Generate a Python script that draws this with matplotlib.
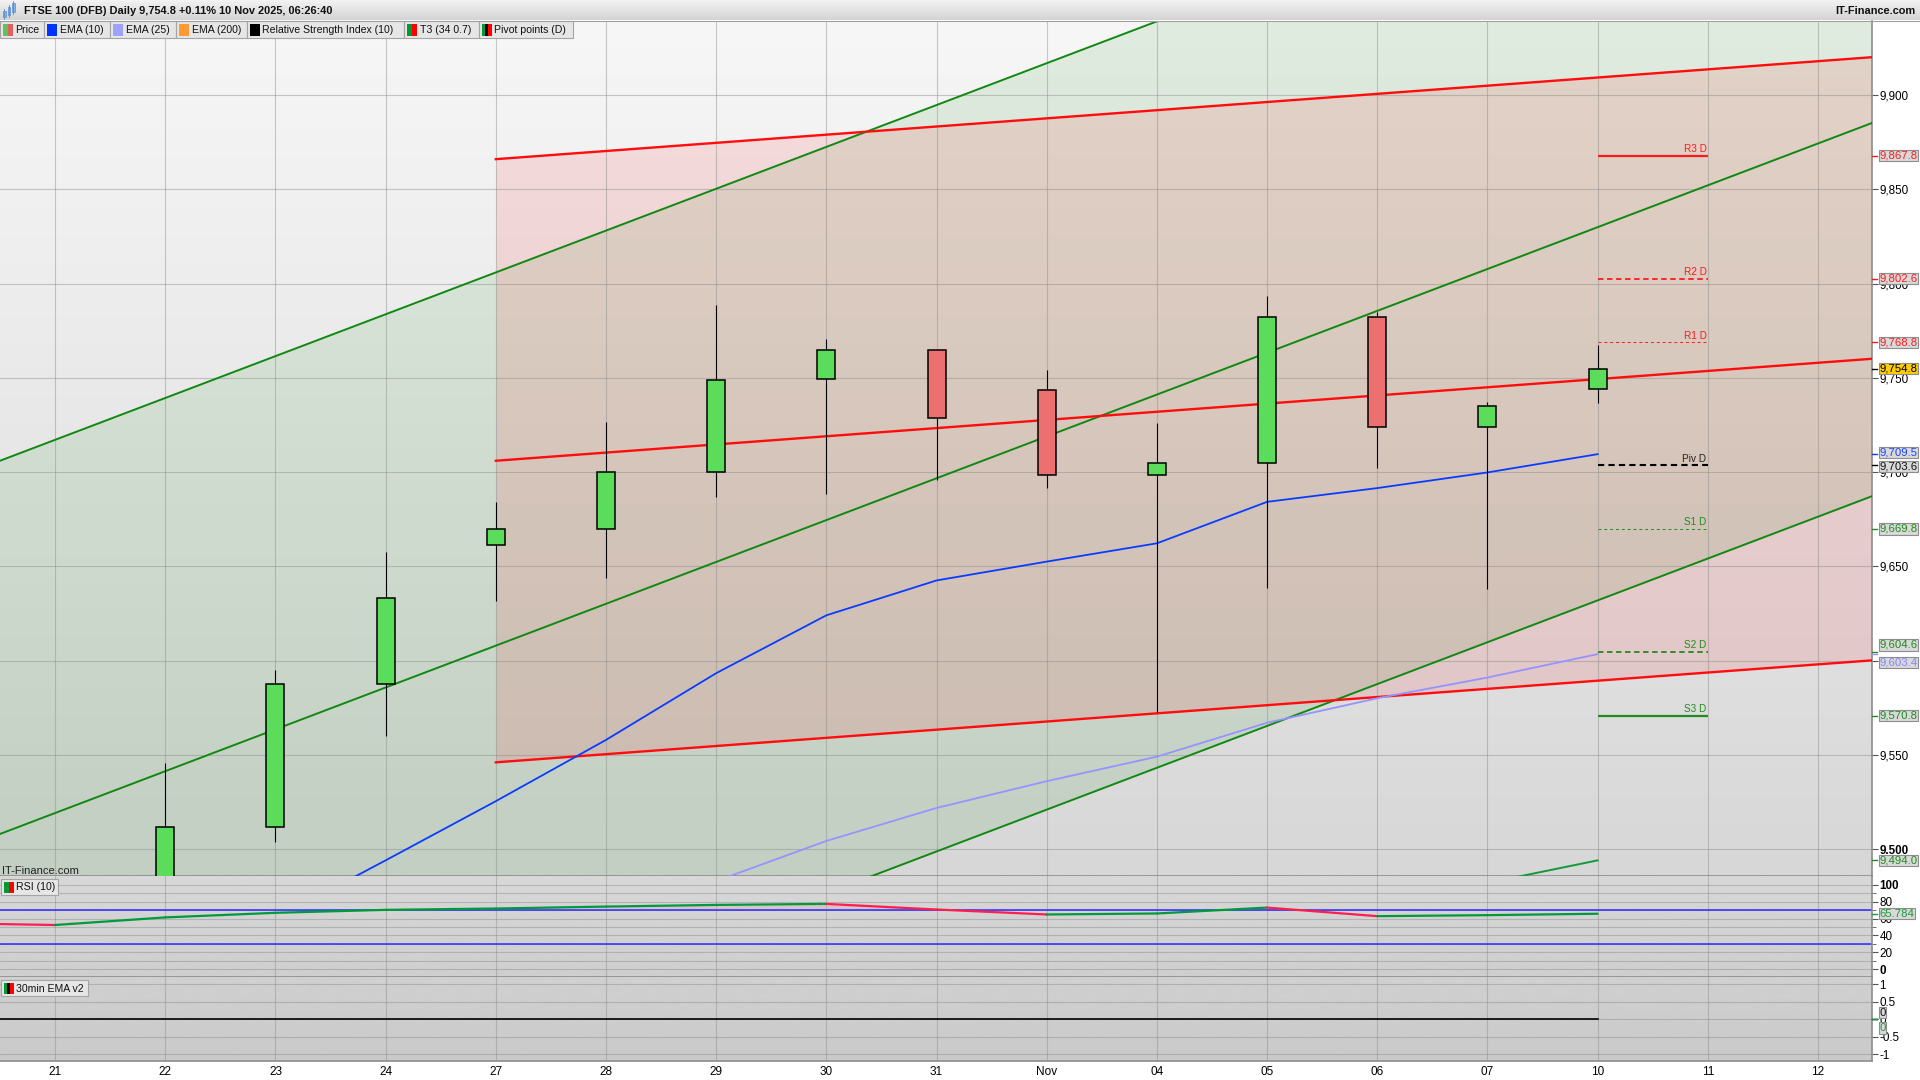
import matplotlib
matplotlib.use('Agg')
import matplotlib.pyplot as plt
import matplotlib.transforms as mtransforms
import numpy as np
from matplotlib.patches import Rectangle

plt.rcParams['font.family'] = ['Liberation Sans', 'DejaVu Sans']

# =============================================================================
# FTSE 100 (DFB) daily, 21 Oct - 10 Nov 2025
# =============================================================================
DATES = ['21', '22', '23', '24', '27', '28', '29', '30', '31', 'Nov',
         '04', '05', '06', '07', '10', '11', '12']

OPEN = [9468.0, 9462.0, 9511.6, 9587.8, 9661.2, 9669.7, 9700.0, 9749.6,
        9765.0, 9743.6, 9698.4, 9704.8, 9782.4, 9723.9, 9744.1]
HIGH = [9482.0, 9545.7, 9594.9, 9657.7, 9684.3, 9726.8, 9788.6, 9770.5,
        9765.0, 9753.9, 9726.2, 9793.3, 9784.8, 9737.4, 9767.2]
LOW = [9440.0, 9455.0, 9503.5, 9559.8, 9631.7, 9643.9, 9686.6, 9688.2,
       9695.7, 9691.3, 9572.5, 9638.7, 9702.0, 9638.1, 9736.5]
CLOSE = [9450.0, 9511.6, 9587.8, 9633.1, 9669.7, 9700.0, 9749.0, 9765.0,
         9728.7, 9698.4, 9704.8, 9782.4, 9723.9, 9735.1, 9754.8]

EMA10 = [9419.0, 9436.0, 9463.0, 9494.0, 9525.4, 9557.9, 9593.3, 9624.0,
         9642.5, 9652.5, 9662.2, 9684.2, 9691.5, 9699.8, 9709.5]
EMA25 = [9385.0, 9394.0, 9408.0, 9424.0, 9442.0, 9461.0, 9483.0, 9504.3,
         9521.8, 9536.0, 9549.0, 9567.0, 9580.0, 9591.0, 9603.4]
T3 = [9330.0, 9338.0, 9347.0, 9357.0, 9368.0, 9380.0, 9393.0, 9406.0,
      9419.0, 9431.0, 9443.0, 9456.0, 9469.0, 9482.0, 9494.0]

# regression channels: x ends, centre line ends, half width
GREEN_CH_X = [-0.5, 16.49]
GREEN_CH_MID = [9508.0, 9885.2]
GREEN_CH_HALF = 198.0
RED_CH_X = [4.0, 16.49]
RED_CH_MID = [9706.0, 9760.1]
RED_CH_HALF = 160.0

PIVOT_NAMES = ['R3 D', 'R2 D', 'R1 D', 'Piv D', 'S1 D', 'S2 D', 'S3 D']
PIVOT_VALUES = [9867.8, 9802.6, 9768.8, 9703.6, 9669.8, 9604.6, 9570.8]

RSI_X = [-1, 0, 1, 2, 3, 4, 5, 6, 7, 8, 9, 10, 11, 12, 13, 14]
RSI = [54.6, 52.4, 61.4, 66.9, 70.4, 72.0, 74.3, 76.3, 77.5, 70.8, 64.9,
       66.1, 73.1, 62.9, 64.1, 65.784]

EMA_V2_X = [-1, 0, 1, 2, 3, 4, 5, 6, 7, 8, 9, 10, 11, 12, 13, 14]
EMA_V2 = [0.0, 0.0, 0.0, 0.0, 0.0, 0.0, 0.0, 0.0, 0.0, 0.0, 0.0, 0.0, 0.0,
          0.0, 0.0, 0.0]

LEGEND_ITEMS = ['Price', 'EMA (10)', 'EMA (25)', 'EMA (200)',
                'Relative Strength Index (10)', 'T3 (34 0.7)',
                'Pivot points (D)']

# =============================================================================
# layout / styles
# =============================================================================
W, H = 1920, 1080
PLOT_RIGHT = 1872
X_LIM = (-0.5, 16.49)
Y_LIM = (9485.7, 9939.3)

C_UP = '#5bdc5b'
C_DN = '#ec7070'
C_RED = '#ff1a1a'
C_GREEN = '#1e8c1e'
C_BLUE = '#0a3cff'
C_LAV = '#9494ff'
C_GRID = '#8a8a8a'
C_BOX = '#d9d9d9'

LEGEND_BOUNDS = [0, 44, 110, 176, 247, 404, 479, 573]
LEGEND_ICONS = [['#5ec25e', '#e06060'], ['#0033ff'], ['#a0a0ff'],
                ['#ff9933'], ['#000000'], ['#009933', '#ff0000'],
                ['#009933', '#000000', '#ff0000']]

PIVOT_STYLES = [(C_RED, '-', 1.6), (C_RED, (0, (3, 2)), 1.3),
                (C_RED, (0, (3, 3)), 0.7), ('#000000', (0, (3, 2)), 1.5),
                (C_GREEN, (0, (3, 3)), 0.7), (C_GREEN, (0, (3, 2)), 1.3),
                (C_GREEN, '-', 1.6)]
PIVOT_TEXT = [C_RED, C_RED, C_RED, '#222222', C_GREEN, C_GREEN, C_GREEN]


def px_rect(x0, y0, x1, y1):
    return [x0 / W, 1 - y1 / H, (x1 - x0) / W, (y1 - y0) / H]


def gradient(axis, top, bottom, ylim):
    g = np.linspace(top, bottom, 256).reshape(-1, 1)
    axis.imshow(g, cmap='gray', vmin=0, vmax=1, aspect='auto',
                extent=(X_LIM[0], X_LIM[1], ylim[0], ylim[1]),
                origin='upper', zorder=0, interpolation='bilinear')
    axis.set_xlim(*X_LIM)
    axis.set_ylim(*ylim)


def style_panel(axis):
    axis.yaxis.tick_right()
    axis.set_xticks(range(len(DATES)))
    axis.tick_params(axis='y', direction='out', length=4, width=0.8,
                     color='#555555', labelsize=8.4, pad=1.5)
    axis.tick_params(axis='x', length=0, labelbottom=False)
    axis.grid(True, which='both', color=C_GRID, alpha=0.45, lw=0.8)
    for side in ['top', 'left']:
        axis.spines[side].set_visible(False)
    for side in ['right', 'bottom']:
        axis.spines[side].set_color('#8c8c8c')
        axis.spines[side].set_linewidth(1.2)


def value_box(axis, value, text, tcolor, fcolor, tick_color, dy=0.0):
    trans = mtransforms.blended_transform_factory(axis.transAxes,
                                                  axis.transData)
    axis.plot([1.0, 1.0 + 5 / PLOT_RIGHT], [value, value], transform=trans,
              color=tick_color, lw=1.0, clip_on=False, zorder=6)
    axis.annotate(text, xy=(1.0, value), xycoords=trans, xytext=(5.2, dy),
                  textcoords='offset points', ha='left', va='center',
                  fontsize=8.2, color=tcolor, annotation_clip=False,
                  zorder=7,
                  bbox=dict(boxstyle='square,pad=0.05', fc=fcolor,
                            ec='#8e8e8e', lw=0.8))


def fmt(v):
    return f'{v:,.1f}'


fig = plt.figure(figsize=(19.2, 10.8), dpi=100)
fig.patch.set_facecolor('white')

ax = fig.add_axes(px_rect(0, 21, PLOT_RIGHT, 876))
ax_rsi = fig.add_axes(px_rect(0, 876, PLOT_RIGHT, 977))
ax_ema = fig.add_axes(px_rect(0, 977, PLOT_RIGHT, 1061))

# =============================================================================
# main price panel
# =============================================================================
gradient(ax, 0.965, 0.84, Y_LIM)
style_panel(ax)

gx = np.array(GREEN_CH_X)
gm = np.array(GREEN_CH_MID)
ax.fill_between(gx, gm - GREEN_CH_HALF, gm + GREEN_CH_HALF,
                color=(0.0, 0.5, 0.0), alpha=0.09, lw=0, zorder=0.6)
rx = np.array(RED_CH_X)
rm = np.array(RED_CH_MID)
ax.fill_between(rx, rm - RED_CH_HALF, rm + RED_CH_HALF,
                color=(1.0, 0.0, 0.0), alpha=0.1, lw=0, zorder=0.7)
for k in (-1, 0, 1):
    ax.plot(gx, gm + k * GREEN_CH_HALF, color='#118811', lw=1.4, zorder=3)
    ax.plot(rx, rm + k * RED_CH_HALF, color='#ff0d0d', lw=1.7, zorder=3)

days = np.arange(len(CLOSE))
ax.plot(days, T3, color='#129a3a', lw=1.4, zorder=3.2)
ax.plot(days, EMA25, color=C_LAV, lw=1.3, zorder=3.3)
ax.plot(days, EMA10, color=C_BLUE, lw=1.3, zorder=3.4)

o = np.array(OPEN)
c = np.array(CLOSE)
ax.vlines(days, LOW, HIGH, color='black', lw=0.8, zorder=4)
ax.bar(days, np.abs(c - o), bottom=np.minimum(o, c), width=0.164,
       color=[C_UP if cc >= oo else C_DN for oo, cc in zip(o, c)],
       edgecolor='black', linewidth=1.1, zorder=5)

last = days[-1]
for name, val, (col, ls, lw), tcol in zip(PIVOT_NAMES, PIVOT_VALUES,
                                          PIVOT_STYLES, PIVOT_TEXT):
    ax.hlines(val, last, last + 1, colors=col, linestyles=ls, lw=lw,
              zorder=3.5)
    ax.annotate(name, xy=(last + 1, val), xytext=(-1, 1.2),
                textcoords='offset points', ha='right', va='bottom',
                fontsize=7.2, color=tcol, zorder=6)

ticks = np.arange(9500, 9901, 50)
ax.set_yticks(ticks, ['9.500'] + [f'{t:,}' for t in ticks[1:]])
ax.get_yticklabels()[0].set_fontweight('bold')

for val, tcol in zip(PIVOT_VALUES[:5], PIVOT_TEXT[:5]):
    if val != PIVOT_VALUES[3]:
        value_box(ax, val, fmt(val), tcol, C_BOX, tcol)
value_box(ax, CLOSE[-1], fmt(CLOSE[-1]), '#000000', '#ffcc00', '#000000')
value_box(ax, EMA10[-1], fmt(EMA10[-1]), '#1a44ff', C_BOX, C_BLUE, dy=1.0)
value_box(ax, PIVOT_VALUES[3], fmt(PIVOT_VALUES[3]), '#111111', C_BOX,
          '#000000', dy=-1.0)
value_box(ax, PIVOT_VALUES[5], fmt(PIVOT_VALUES[5]), C_GREEN, C_BOX,
          C_GREEN, dy=5.0)
value_box(ax, EMA25[-1], fmt(EMA25[-1]), '#8484ff', C_BOX, C_LAV, dy=-6.0)
value_box(ax, PIVOT_VALUES[6], fmt(PIVOT_VALUES[6]), C_GREEN, C_BOX, C_GREEN)
value_box(ax, T3[-1], fmt(T3[-1]), C_GREEN, C_BOX, C_GREEN)

# =============================================================================
# RSI panel
# =============================================================================
RSI_LIM = (-9.5, 110.7)
gradient(ax_rsi, 0.845, 0.81, RSI_LIM)
style_panel(ax_rsi)
ax_rsi.set_yticks(range(0, 101, 20), [str(v) for v in range(0, 101, 20)])
ax_rsi.set_yticks(range(10, 100, 20), minor=True)
ax_rsi.tick_params(axis='y', which='minor', length=3, color='#555555')
for lab in ax_rsi.get_yticklabels():
    if lab.get_text() in ('0', '100'):
        lab.set_fontweight('bold')

ax_rsi.axhline(70, color='#2a2aff', lw=1.1, zorder=2)
ax_rsi.axhline(30, color='#2a2aff', lw=1.1, zorder=2)
rsi = np.array(RSI)
ax_rsi.fill_between(RSI_X, 70, rsi, where=rsi > 70, interpolate=True,
                    color='#e3a0a0', alpha=0.3, lw=0, zorder=1.8)
for k in range(len(RSI) - 1):
    col = '#009a3c' if RSI[k + 1] >= RSI[k] else '#ff1f4f'
    ax_rsi.plot(RSI_X[k:k + 2], RSI[k:k + 2], color=col, lw=1.6,
                solid_capstyle='round', zorder=3)
value_box(ax_rsi, RSI[-1], f'{RSI[-1]:.3f}', '#1a9a3a', C_BOX, '#1a9a3a')

# =============================================================================
# 30min EMA v2 panel
# =============================================================================
EMA_LIM = (-1.19, 1.21)
gradient(ax_ema, 0.815, 0.79, EMA_LIM)
style_panel(ax_ema)
ax_ema.set_yticks([-1, -0.5, 0, 0.5, 1], ['-1', '-0.5', '0', '0.5', '1'])
ax_ema.plot(EMA_V2_X, EMA_V2, color='black', lw=1.2, zorder=3)
value_box(ax_ema, EMA_V2[-1], '0', '#111111', C_BOX, '#000000', dy=4.8)
value_box(ax_ema, EMA_V2[-1], '0', '#1a9a3a', C_BOX, '#1a9a3a', dy=-6.2)
ax_ema.set_xticks(range(len(DATES)), DATES)
ax_ema.tick_params(axis='x', length=0, labelbottom=True, labelsize=8.5,
                   pad=3.5)

# =============================================================================
# header, legend row, panel captions (pixel overlay)
# =============================================================================
ov = fig.add_axes([0, 0, 1, 1], zorder=20)
ov.imshow(np.linspace(0.95, 0.83, 64).reshape(-1, 1), cmap='gray', vmin=0,
          vmax=1, aspect='auto', extent=(0, W, 20, 0))
ov.set_xlim(0, W)
ov.set_ylim(H, 0)
ov.set_axis_off()
ov.plot([0, W], [20.5, 20.5], color='#a0a0a0', lw=0.8)

for x0, top, h in [(3, 11, 6), (7.5, 7, 8), (12, 3, 9)]:
    ov.plot([x0 + 1.2, x0 + 1.2], [top - 2, top + h + 2], color='#5b8fd0',
            lw=0.6)
    ov.add_patch(Rectangle((x0, top), 2.6, h, fc='#7fb2ea', ec='#5b8fd0',
                           lw=0.5))
ov.text(24, 10.5, 'FTSE 100 (DFB) Daily 9,754.8 +0.11% 10 Nov 2025, 06:26:40',
        fontsize=7.9, fontweight='bold', va='center', ha='left',
        color='#111111')
ov.text(1915, 10.5, 'IT-Finance.com', fontsize=7.9, fontweight='bold',
        va='center', ha='right', color='#111111')


def caption_box(x0, x1, y0, y1, text, icon):
    ov.add_patch(Rectangle((x0, y0), x1 - x0, y1 - y0, fc='#e6e6e6',
                           ec='#a4a4a4', lw=0.8))
    sw = 10.0 / len(icon)
    for j, col in enumerate(icon):
        ov.add_patch(Rectangle((x0 + 2.5 + j * sw, y0 + 2.5), sw,
                               y1 - y0 - 5, fc=col, lw=0))
    ov.text(x0 + 15.5, (y0 + y1) / 2 + 0.5, text, fontsize=7.6,
            va='center', ha='left', color='#111111')


for k, name in enumerate(LEGEND_ITEMS):
    caption_box(LEGEND_BOUNDS[k], LEGEND_BOUNDS[k + 1], 21, 38, name,
                LEGEND_ICONS[k])

caption_box(1, 58, 879, 895, 'RSI (10)', ['#009933', '#ff0000'])
caption_box(1, 88, 980, 996, '30min EMA v2',
            ['#009933', '#000000', '#ff0000'])
ov.text(2, 870.5, 'IT-Finance.com', fontsize=8, va='center', ha='left',
        color='#222222')

fig.savefig('out.png', dpi=100, facecolor='white')
